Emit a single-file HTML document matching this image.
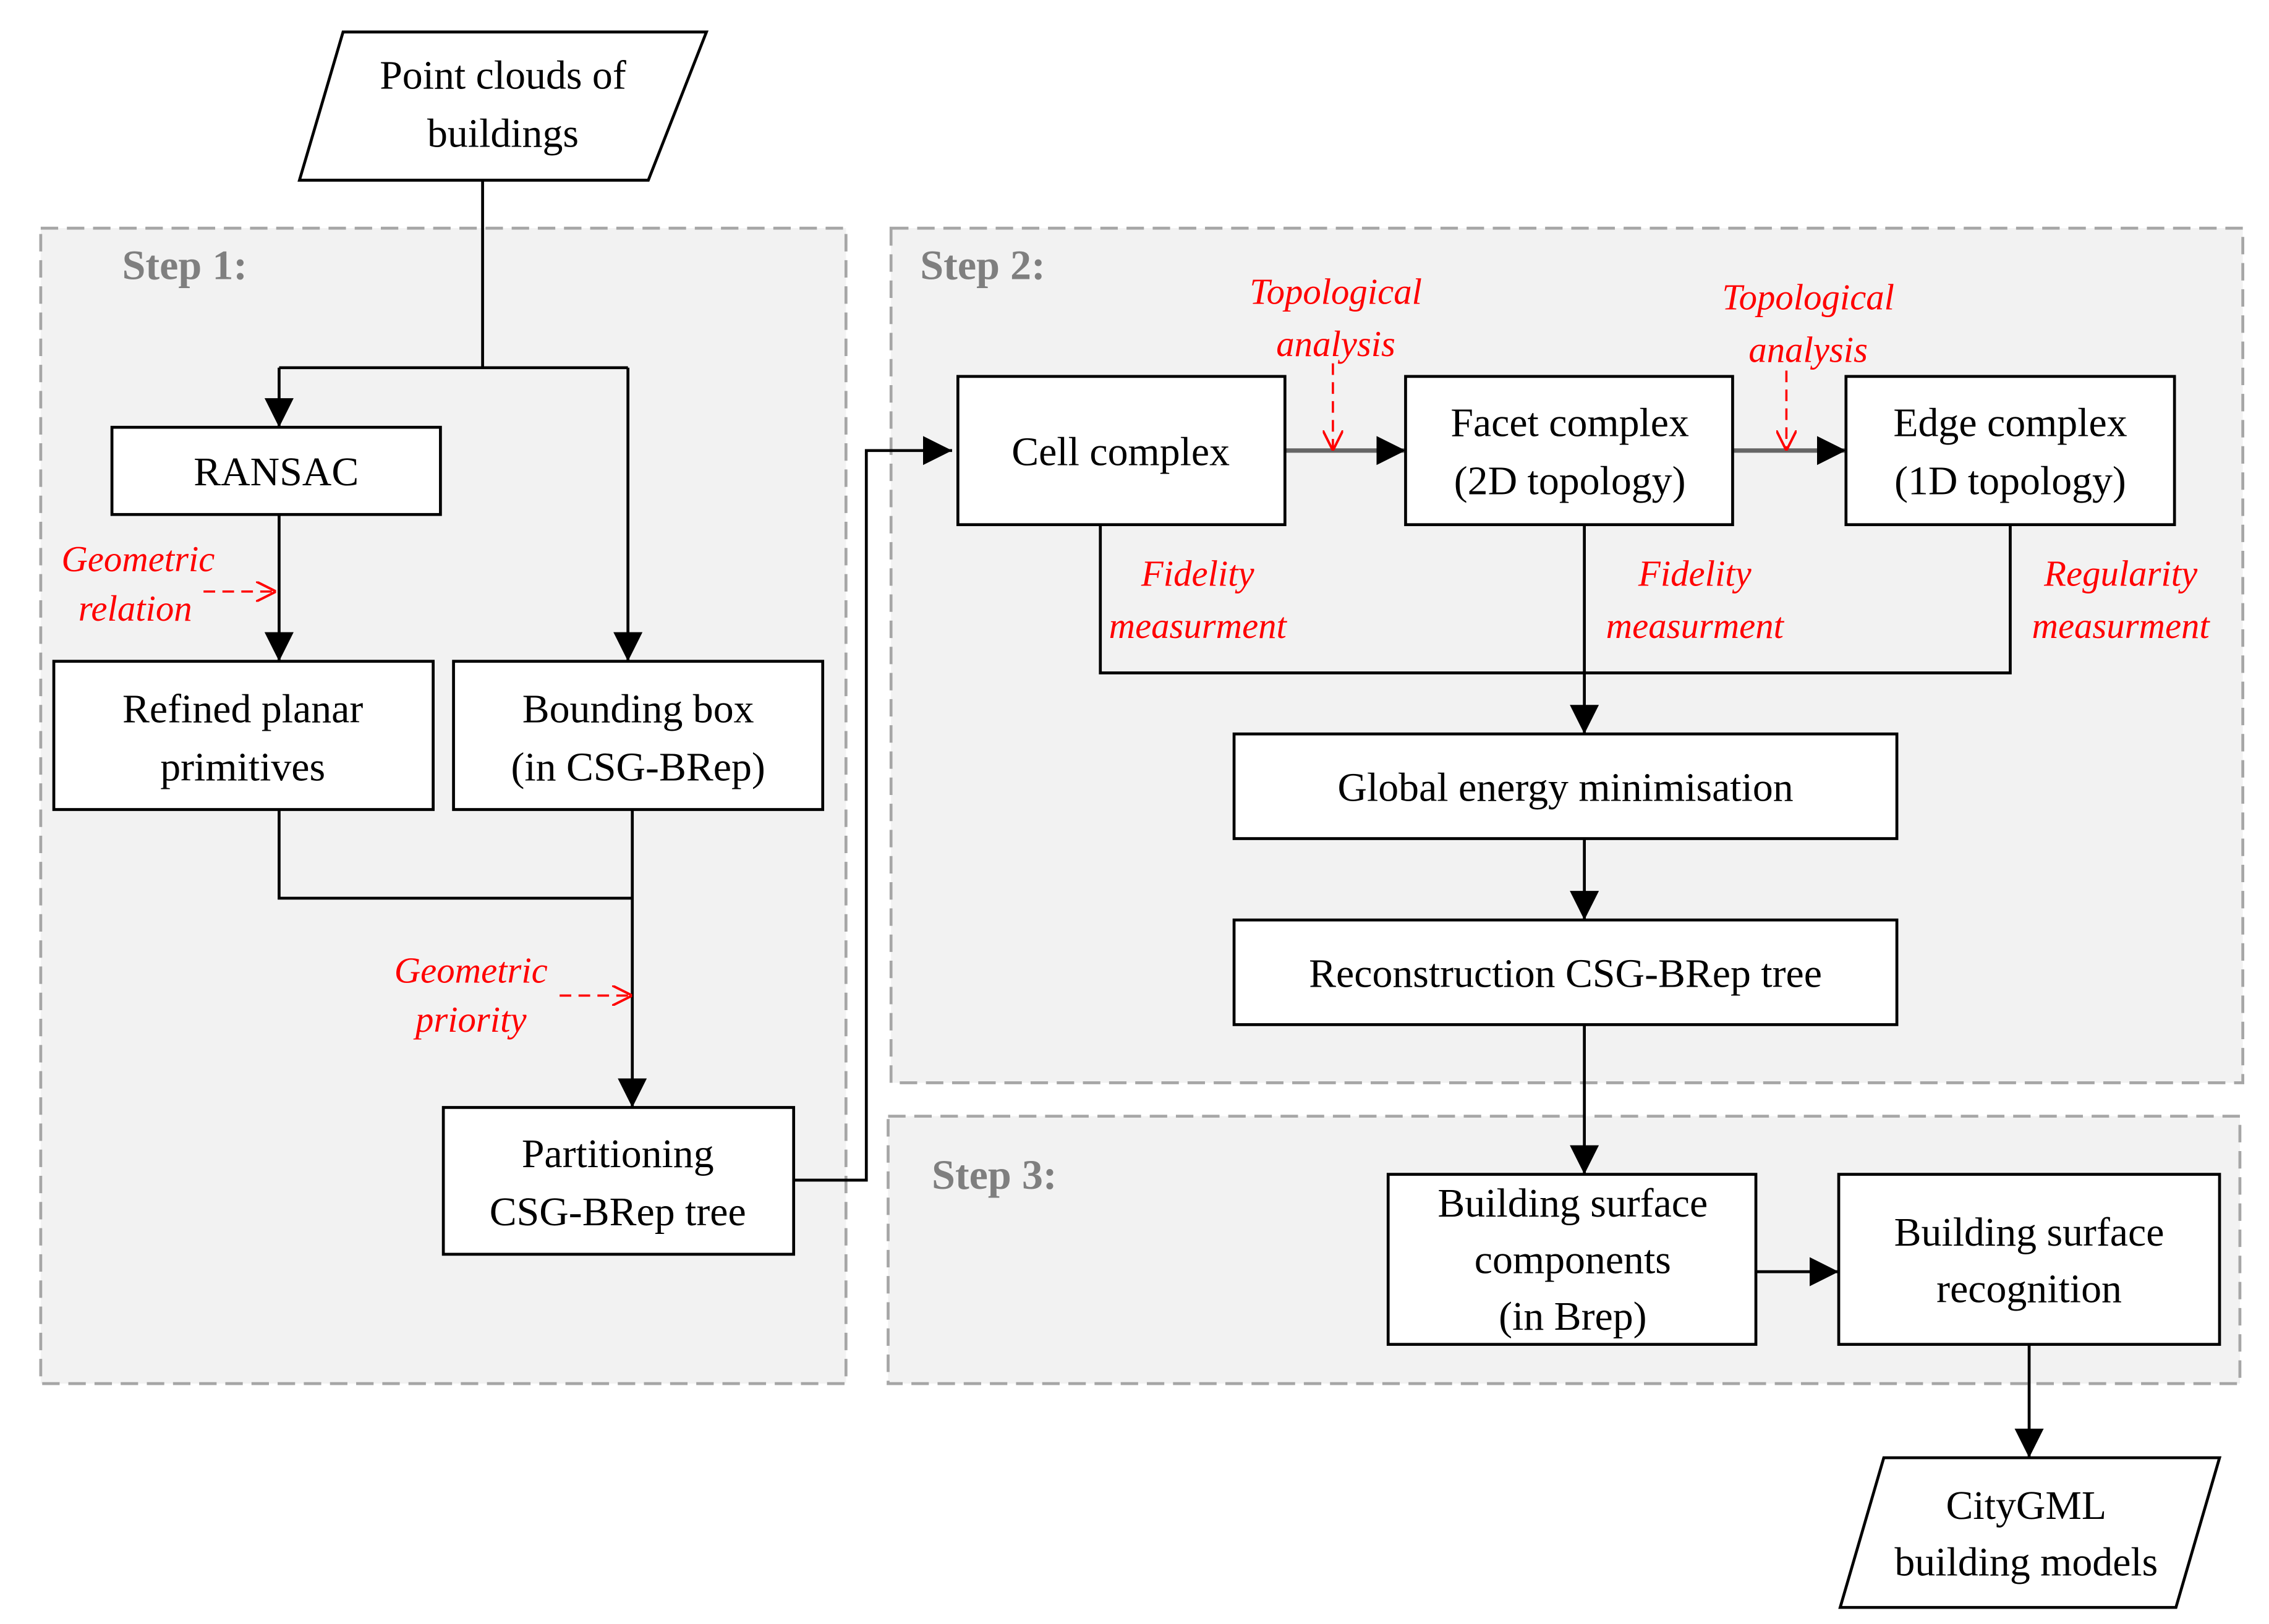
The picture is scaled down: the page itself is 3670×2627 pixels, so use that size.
<!DOCTYPE html>
<html><head><meta charset="utf-8"><style>
html,body{margin:0;padding:0;background:#fff}
svg{display:block}
text{font-family:"Liberation Serif",serif}
.t{font-size:28px;fill:#000;text-anchor:middle}
.r{font-size:25px;fill:#f00;font-style:italic;text-anchor:middle}
.s{font-size:29px;fill:#7f7f7f;font-weight:bold}
</style></head><body>
<svg width="3670" height="2627" viewBox="0 0 1561 1117.4" xmlns="http://www.w3.org/2000/svg">
<defs>
<marker id="a" markerWidth="10" markerHeight="10" refX="9" refY="5" orient="auto" markerUnits="userSpaceOnUse"><path d="M0,0 L10,5 L0,10 Z" fill="#000" transform="scale(1)"/></marker>
<marker id="A" viewBox="0 0 10 10" markerWidth="20" markerHeight="20" refX="10" refY="5" orient="auto" markerUnits="userSpaceOnUse"><path d="M0,0 L10,5 L0,10 Z" fill="#000"/></marker>
<marker id="R" viewBox="0 0 10 10" markerWidth="14" markerHeight="14" refX="10" refY="5" orient="auto" markerUnits="userSpaceOnUse"><path d="M0,0 L10,5 L0,10" fill="none" stroke="#f00" stroke-width="1.2"/></marker>
</defs>
<g fill="#f2f2f2" stroke="#a6a6a6" stroke-width="2" stroke-dasharray="12,6">
<rect x="28" y="157" width="554" height="795"/>
<rect x="613" y="157" width="930" height="588"/>
<rect x="611" y="768" width="930" height="184"/>
</g>
<text class="s" x="84" y="192">Step 1:</text>
<text class="s" x="633" y="192">Step 2:</text>
<text class="s" x="641" y="818">Step 3:</text>
<g fill="none" stroke="#000" stroke-width="2">
<polyline points="332,124 332,253"/>
<polyline points="192,253 432,253"/>
<polyline points="192,253 192,294" marker-end="url(#A)"/>
<polyline points="432,253 432,455" marker-end="url(#A)"/>
<polyline points="192,354 192,455" marker-end="url(#A)"/>
<polyline points="192,557 192,618 435,618"/>
<polyline points="435,557 435,762" marker-end="url(#A)"/>
<polyline points="546,812 596,812 596,310 655,310" marker-end="url(#A)"/>
<polyline points="884,310 967,310" marker-end="url(#A)" stroke="#666" stroke-width="3"/>
<polyline points="1192,310 1270,310" marker-end="url(#A)" stroke="#666" stroke-width="3"/>
<polyline points="757,361 757,463 1383,463 1383,361"/>
<polyline points="1090,361 1090,505" marker-end="url(#A)"/>
<polyline points="1090,577 1090,633" marker-end="url(#A)"/>
<polyline points="1090,705 1090,808" marker-end="url(#A)"/>
<polyline points="1208,875 1265,875" marker-end="url(#A)"/>
<polyline points="1396,925 1396,1003" marker-end="url(#A)"/>
</g>
<g fill="none" stroke="#f00" stroke-width="1.5" stroke-dasharray="8,5">
<line x1="140" y1="407" x2="190" y2="407" marker-end="url(#R)"/>
<line x1="385" y1="685" x2="435" y2="685" marker-end="url(#R)"/>
<line x1="917" y1="250" x2="917" y2="310" marker-end="url(#R)"/>
<line x1="1229" y1="255" x2="1229" y2="310" marker-end="url(#R)"/>
</g>
<g fill="#fff" stroke="#000" stroke-width="2">
<polygon points="236,22 486,22 446,124 206,124"/>
<rect x="77" y="294" width="226" height="60"/>
<rect x="37" y="455" width="261" height="102"/>
<rect x="312" y="455" width="254" height="102"/>
<rect x="305" y="762" width="241" height="101"/>
<rect x="659" y="259" width="225" height="102"/>
<rect x="967" y="259" width="225" height="102"/>
<rect x="1270" y="259" width="226" height="102"/>
<rect x="849" y="505" width="456" height="72"/>
<rect x="849" y="633" width="456" height="72"/>
<rect x="955" y="808" width="253" height="117"/>
<rect x="1265" y="808" width="262" height="117"/>
<polygon points="1296,1003 1527,1003 1497,1106 1266,1106"/>
</g>
<text class="t" x="346" y="61">Point clouds of</text>
<text class="t" x="346" y="101">buildings</text>
<text class="t" x="190" y="334">RANSAC</text>
<text class="t" x="167" y="497">Refined planar</text>
<text class="t" x="167" y="537">primitives</text>
<text class="t" x="439" y="497">Bounding box</text>
<text class="t" x="439" y="537">(in CSG-BRep)</text>
<text class="t" x="425" y="803">Partitioning</text>
<text class="t" x="425" y="843">CSG-BRep tree</text>
<text class="t" x="771" y="320">Cell complex</text>
<text class="t" x="1080" y="300">Facet complex</text>
<text class="t" x="1080" y="340">(2D topology)</text>
<text class="t" x="1383" y="300">Edge complex</text>
<text class="t" x="1383" y="340">(1D topology)</text>
<text class="t" x="1077" y="551">Global energy minimisation</text>
<text class="t" x="1077" y="679">Reconstruction CSG-BRep tree</text>
<text class="t" x="1082" y="837">Building surface</text>
<text class="t" x="1082" y="876">components</text>
<text class="t" x="1082" y="915">(in Brep)</text>
<text class="t" x="1396" y="857">Building surface</text>
<text class="t" x="1396" y="896">recognition</text>
<text class="t" x="1394" y="1045">CityGML</text>
<text class="t" x="1394" y="1084">building models</text>
<text class="r" x="95" y="393">Geometric</text>
<text class="r" x="93" y="427">relation</text>
<text class="r" x="324" y="676">Geometric</text>
<text class="r" x="324" y="710">priority</text>
<text class="r" x="919" y="209">Topological</text>
<text class="r" x="919" y="245">analysis</text>
<text class="r" x="1244" y="213">Topological</text>
<text class="r" x="1244" y="249">analysis</text>
<text class="r" x="824" y="403">Fidelity</text>
<text class="r" x="824" y="439">measurment</text>
<text class="r" x="1166" y="403">Fidelity</text>
<text class="r" x="1166" y="439">measurment</text>
<text class="r" x="1459" y="403">Regularity</text>
<text class="r" x="1459" y="439">measurment</text>
</svg>
</body></html>
